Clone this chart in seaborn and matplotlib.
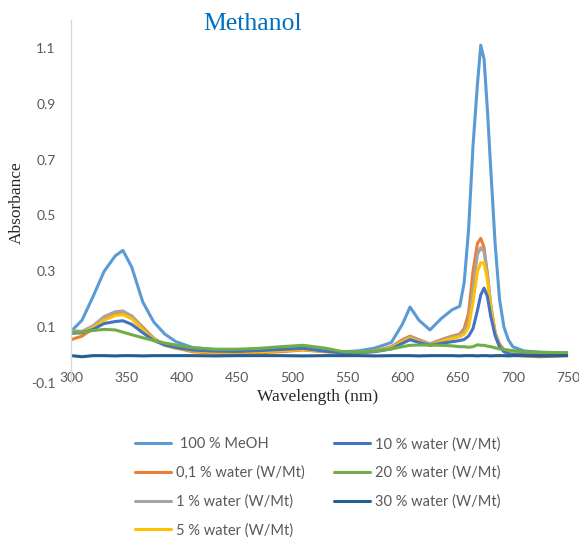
import matplotlib
matplotlib.use("Agg")
import matplotlib.pyplot as plt
import seaborn as sns
import pandas as pd

# ---- data ----
wavelength = [300, 310, 320, 330, 340, 347, 355, 365, 375, 385, 395, 410, 430, 450, 470,
              490, 510, 530, 545, 560, 575, 590, 600, 607, 615, 625, 635, 645, 652, 656,
              660, 664, 668, 671, 674, 677, 680, 684, 688, 692, 696, 700, 710, 725, 750]

meoh_100 = [0.085, 0.125, 0.21, 0.30, 0.355, 0.375, 0.315, 0.19, 0.118, 0.075, 0.048, 0.027, 0.02, 0.018, 0.02,
            0.025, 0.03, 0.02, 0.012, 0.015, 0.025, 0.045, 0.11, 0.172, 0.125, 0.09, 0.13, 0.162, 0.175, 0.26,
            0.45, 0.75, 0.97, 1.11, 1.06, 0.88, 0.67, 0.40, 0.20, 0.10, 0.055, 0.03, 0.015, 0.01, 0.008]

water_01 = [0.055, 0.068, 0.095, 0.13, 0.148, 0.152, 0.14, 0.10, 0.06, 0.035, 0.025, 0.012, 0.006, 0.006, 0.008,
            0.012, 0.018, 0.012, 0.008, 0.008, 0.015, 0.03, 0.055, 0.068, 0.055, 0.04, 0.055, 0.068, 0.075, 0.095,
            0.15, 0.30, 0.40, 0.418, 0.385, 0.29, 0.18, 0.08, 0.04, 0.02, 0.008, 0.0, -0.003, -0.006, -0.002]

water_1 = [0.088, 0.085, 0.105, 0.138, 0.155, 0.158, 0.14, 0.095, 0.058, 0.038, 0.028, 0.02, 0.016, 0.015, 0.017,
           0.02, 0.025, 0.015, 0.01, 0.01, 0.015, 0.028, 0.05, 0.065, 0.052, 0.04, 0.052, 0.065, 0.072, 0.085,
           0.12, 0.24, 0.36, 0.385, 0.37, 0.29, 0.18, 0.08, 0.035, 0.018, 0.01, 0.006, 0.005, 0.004, 0.004]

water_5 = [0.08, 0.08, 0.098, 0.125, 0.142, 0.145, 0.13, 0.09, 0.055, 0.035, 0.026, 0.015, 0.01, 0.01, 0.012,
           0.015, 0.02, 0.013, 0.008, 0.008, 0.014, 0.026, 0.048, 0.06, 0.048, 0.035, 0.048, 0.06, 0.066, 0.075,
           0.10, 0.19, 0.30, 0.33, 0.33, 0.27, 0.17, 0.075, 0.03, 0.015, 0.008, 0.004, 0.003, 0.002, 0.002]

water_10 = [0.078, 0.08, 0.092, 0.113, 0.12, 0.123, 0.11, 0.08, 0.052, 0.036, 0.027, 0.018, 0.014, 0.013, 0.016,
            0.02, 0.024, 0.014, 0.008, 0.008, 0.012, 0.022, 0.042, 0.055, 0.045, 0.035, 0.042, 0.048, 0.052, 0.056,
            0.068, 0.095, 0.16, 0.215, 0.24, 0.21, 0.14, 0.07, 0.03, 0.012, 0.005, 0.002, 0.001, 0.0, 0.0]

water_20 = [0.08, 0.082, 0.088, 0.092, 0.09, 0.082, 0.073, 0.062, 0.052, 0.043, 0.036, 0.026, 0.021, 0.021, 0.024,
            0.03, 0.035, 0.025, 0.013, 0.01, 0.014, 0.022, 0.03, 0.035, 0.036, 0.036, 0.035, 0.033, 0.03, 0.03,
            0.028, 0.03, 0.037, 0.035, 0.035, 0.032, 0.03, 0.026, 0.022, 0.02, 0.018, 0.016, 0.012, 0.01, 0.008]

water_30 = [-0.002, -0.006, -0.002, -0.002, -0.003, -0.002, -0.002, -0.003, -0.002, -0.002, -0.002, -0.002, -0.003, -0.002, -0.002,
            -0.002, -0.003, -0.002, -0.002, -0.002, -0.003, -0.002, -0.002, -0.002, -0.003, -0.002, -0.002, -0.002, -0.003, -0.002,
            -0.002, -0.002, -0.003, -0.002, -0.002, -0.002, -0.003, -0.002, -0.002, -0.002, -0.003, -0.002, -0.002, -0.003, -0.002]

series_labels = [" 100 % MeOH", "0,1 % water (W/Mt)", "1 % water (W/Mt)", "5 % water (W/Mt)",
                 "10 % water (W/Mt)", "20 % water (W/Mt)", "30 % water (W/Mt)"]
series_values = [meoh_100, water_01, water_1, water_5, water_10, water_20, water_30]
series_colors = ["#5B9BD5", "#ED7D31", "#A5A5A5", "#FFC000", "#4472C4", "#70AD47", "#255E91"]

x_ticks = [300, 350, 400, 450, 500, 550, 600, 650, 700, 750]
y_ticks = [-0.1, 0.1, 0.3, 0.5, 0.7, 0.9, 1.1]
y_tick_labels = ["-0.1", "0.1", "0.3", "0.5", "0.7", "0.9", "1.1"]

# ---- style ----
sns.set_style("white")
plt.rcParams["font.family"] = ["Lato", "DejaVu Sans"]
plt.rcParams["axes.unicode_minus"] = False

W, H = 579, 540
fig = plt.figure(figsize=(W / 100, H / 100), dpi=100)
ax = fig.add_axes([71 / W, 1 - 383 / H, (568 - 71) / W, (383 - 20) / H])

for lab, vals, col in zip(series_labels, series_values, series_colors):
    df = pd.DataFrame({"Wavelength": wavelength, "Absorbance": vals})
    sns.lineplot(data=df, x="Wavelength", y="Absorbance", color=col, linewidth=2.2,
                 label=lab, ax=ax, legend=False)

ax.set_xlim(300, 750)
ax.set_ylim(-0.1, 1.2)
ax.set_xticks(x_ticks)
ax.set_xticklabels([str(v) for v in x_ticks])
ax.set_yticks(y_ticks)
ax.set_yticklabels(y_tick_labels)
ax.set_xlabel("")
ax.set_ylabel("")

for s in ["top", "right"]:
    ax.spines[s].set_visible(False)
ax.spines["left"].set_color("#D9D9D9")
ax.spines["left"].set_linewidth(1.0)
ax.spines["bottom"].set_position(("data", 0))
ax.spines["bottom"].set_color("#D9D9D9")
ax.spines["bottom"].set_linewidth(1.0)
ax.spines["bottom"].set_zorder(0)

ax.tick_params(axis="both", length=0, labelsize=10, labelcolor="#595959")
ax.tick_params(axis="x", pad=12)
ax.tick_params(axis="y", pad=11)

fig.text(253 / W, 1 - 30 / H, "Methanol", color="#0070C0", fontsize=18.5,
         family=["Liberation Serif", "DejaVu Serif"], ha="center", va="baseline")
fig.text(17 / W, 1 - 203 / H, "Absorbance", color="#262626", fontsize=12.5,
         family=["Liberation Serif", "DejaVu Serif"], ha="center", va="center", rotation=90)
fig.text(318 / W, 1 - 397 / H, "Wavelength (nm)", color="#262626", fontsize=12.5,
         family=["Liberation Serif", "DejaVu Serif"], ha="center", va="center")

handles, labels = ax.get_legend_handles_labels()
leg = fig.legend(handles, labels, ncol=2, frameon=False, loc="upper left",
                 bbox_to_anchor=(135 / W, 1 - 437 / H), borderpad=0, borderaxespad=0,
                 handlelength=2.5, handletextpad=0.3, columnspacing=2.0,
                 labelspacing=0.98, fontsize=10.5)
for t in leg.get_texts():
    t.set_color("#595959")
for l in leg.get_lines():
    l.set_linewidth(2.2)

fig.savefig("out.png", dpi=100)
